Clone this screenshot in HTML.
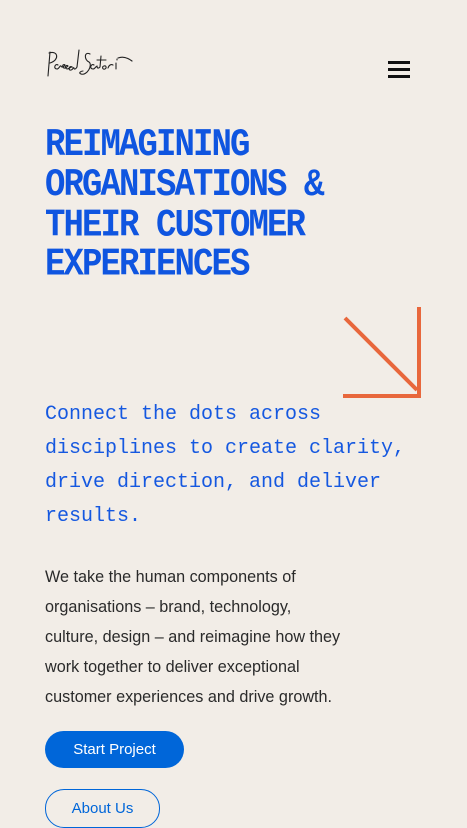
<!DOCTYPE html>
<html><head><meta charset="utf-8"><style>
body{margin:0;width:467px;height:805px;overflow:hidden;background:#f2ede7;position:relative;font-family:"Liberation Sans",sans-serif}
.abs{position:absolute}
h1{position:absolute;left:45px;top:126px;margin:0;font-family:"Liberation Mono",monospace;font-weight:bold;font-size:34px;letter-spacing:-1.9px;line-height:34.78px;color:#0f55e0;transform:scaleY(1.15);transform-origin:0 0}
.sub{left:45px;top:398px;margin:0;font-family:"Liberation Mono",monospace;font-size:20px;line-height:34px;color:#1558e0}
.body{left:45px;top:562px;margin:0;font-size:16.2px;line-height:30px;color:#2a2a2a;width:330px}
.btn{left:45px;top:731px;width:139px;height:37px;border-radius:19px;background:#0066d9;color:#fff;font-size:15px;line-height:37px;text-align:center}
.btn2{left:45px;top:789px;width:113px;height:37px;border-radius:19px;border:1.5px solid #0066d9;color:#0066d9;font-size:15px;line-height:37px;text-align:center}
</style></head><body>
<svg class="abs" style="left:46px;top:48px" width="90" height="36" viewBox="0 0 90 36">
<g fill="none" stroke="#222" stroke-width="1.1" stroke-linecap="round">
<path d="M4 4 L2 28 M3 5 C12 2 14 12 4 15"/>
<path d="M12 17 c-3 -2 -5 4 -1 4 c2 0 3 -4 4 -3 c1 2 3 1 4 -1 c-1 -1 -3 0 -2 2 c1 2 3 1 5 -1 c-2 -2 -4 2 -1 3 c2 0 3 -2 5 -2 c-3 -2 -4 4 -1 3 c2 0 2 -3 3 -2 c0 2 2 1 3 -1 L33 2"/>
<path d="M44 6 c-6 -3 -6 6 -1 8 c4 3 -2 14 -8 12 c-3 -1 0 -3 2 -3"/>
<path d="M48 17 c-3 -2 -5 4 -1 4 c2 0 3 -3 4 -3 c0 2 1 3 3 1 L55 8 M51 12 h9 M58 18 c-2 0 -2 4 1 3 c2 -1 1 -4 -1 -3 M62 20 c1 -3 3 -4 5 -3 M70 15 v6 M71 11 v1 M72 10 c5 -2 10 0 14 3"/>
</g></svg>
<div class="abs" style="left:388px;top:61px;width:22px;height:17px">
<div style="position:absolute;left:0;top:0;width:22px;height:2.6px;background:#111"></div>
<div style="position:absolute;left:0;top:7px;width:22px;height:2.6px;background:#111"></div>
<div style="position:absolute;left:0;top:14px;width:22px;height:2.6px;background:#111"></div>
</div>
<h1>REIMAGINING<br>ORGANISATIONS &amp;<br>THEIR CUSTOMER<br>EXPERIENCES</h1>
<svg class="abs" style="left:340px;top:305px" width="85" height="95">
<g stroke="#e8673c" stroke-width="4" fill="none"><path d="M5 13 L77 85"/><path d="M79 2 V91 H3"/></g></svg>
<p class="abs sub">Connect the dots across<br>disciplines to create clarity,<br>drive direction, and deliver<br>results.</p>
<p class="abs body">We take the human components of<br>organisations – brand, technology,<br>culture, design – and reimagine how they<br>work together to deliver exceptional<br>customer experiences and drive growth.</p>
<div class="abs btn">Start Project</div>
<div class="abs btn2">About Us</div>
</body></html>
